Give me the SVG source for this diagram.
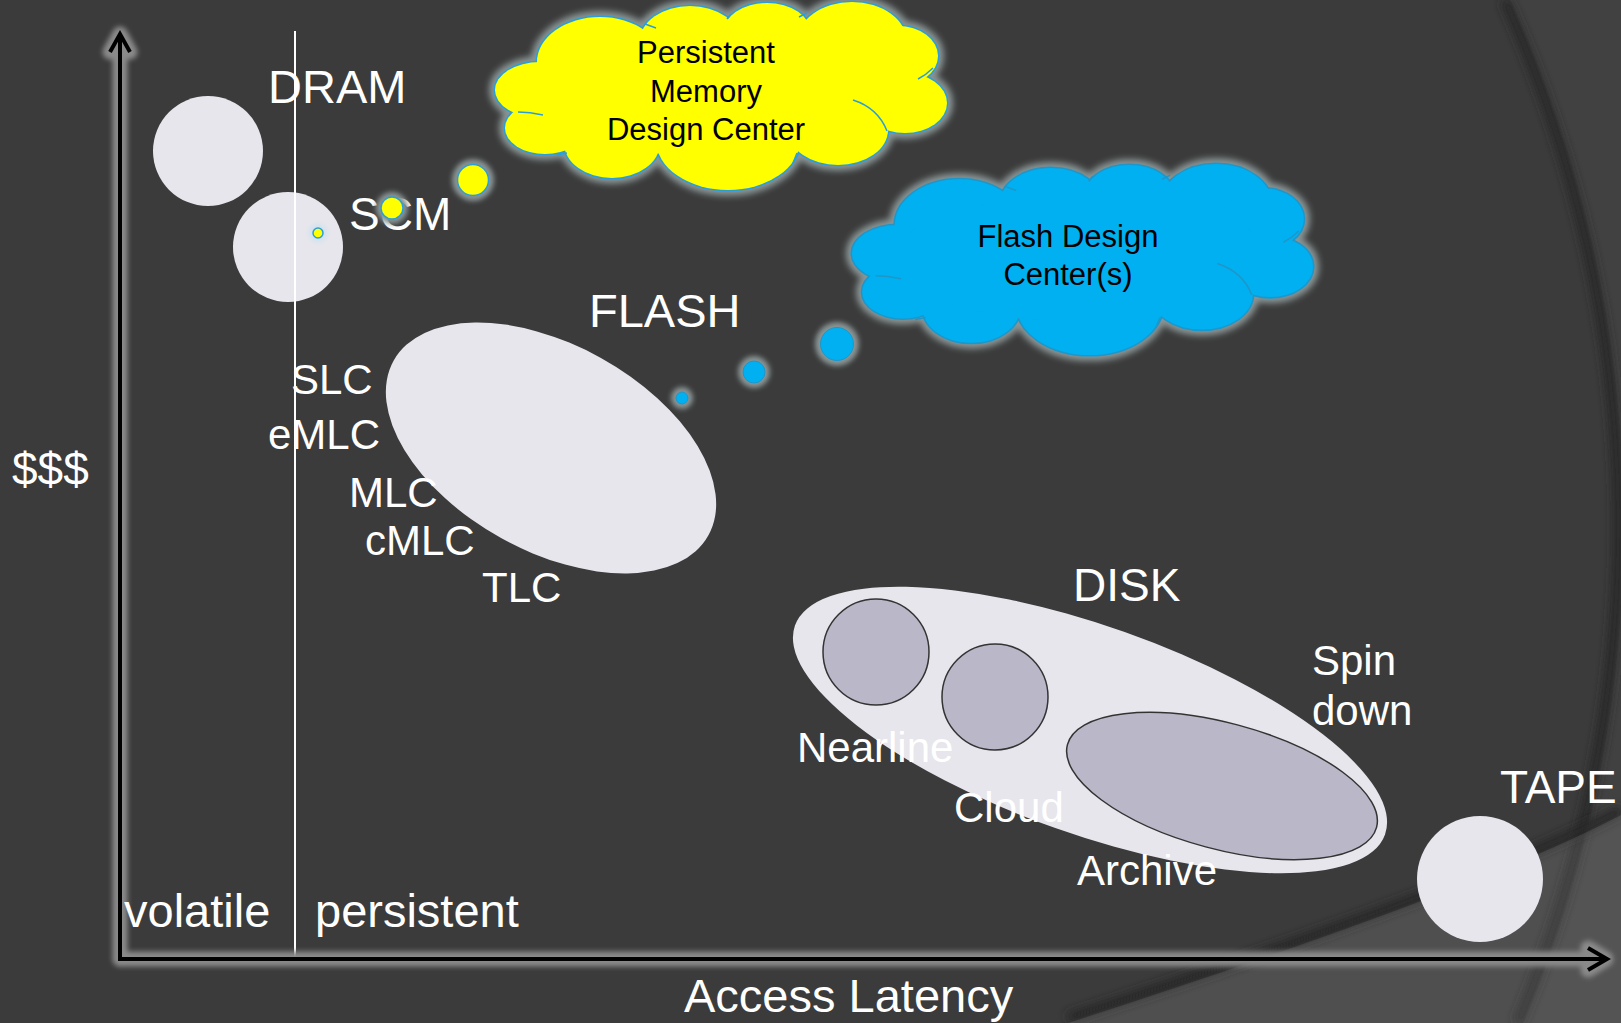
<svg xmlns="http://www.w3.org/2000/svg" xmlns:xlink="http://www.w3.org/1999/xlink" width="1621" height="1023" viewBox="0 0 1621 1023">
<defs>
<style>
.lbl{font-family:"Liberation Sans",Arial,sans-serif;fill:#ffffff}
.big{font-size:47px}
.b46{font-size:46px}
.mid{font-size:42px}
.cl{font-family:"Liberation Sans",Arial,sans-serif;fill:#000000;font-size:31px;text-anchor:middle}
.blob{fill:#e7e6ec}
.sub{fill:#bab8c8;stroke:#333333;stroke-width:1.5}
.glow{fill:#8a9494}
</style>
<filter id="soft" x="-20%" y="-30%" width="140%" height="160%"><feGaussianBlur stdDeviation="3"/></filter>
<filter id="soft2" x="-100%" y="-100%" width="300%" height="300%"><feGaussianBlur stdDeviation="2.5"/></filter>
<filter id="axglow" x="-5%" y="-5%" width="110%" height="110%" filterUnits="userSpaceOnUse"><feGaussianBlur stdDeviation="2.5"/></filter>
<filter id="shade" x="-20%" y="-20%" width="140%" height="140%"><feGaussianBlur stdDeviation="5"/></filter>
<g id="cloudE">
<ellipse cx="600" cy="62" rx="63" ry="45"/>
<ellipse cx="690" cy="41" rx="50" ry="35"/>
<ellipse cx="767" cy="33" rx="44" ry="30"/>
<ellipse cx="852" cy="42" rx="55" ry="40"/>
<ellipse cx="898" cy="56" rx="40" ry="30"/>
<ellipse cx="905" cy="103" rx="42" ry="30"/>
<ellipse cx="838" cy="130" rx="50" ry="35"/>
<ellipse cx="728" cy="140" rx="72" ry="50"/>
<ellipse cx="612" cy="143" rx="48" ry="35"/>
<ellipse cx="545" cy="128" rx="40" ry="26"/>
<ellipse cx="540" cy="90" rx="45" ry="28"/>
<ellipse cx="720" cy="95" rx="185" ry="62"/>
</g>
<path id="cloudIn" d="M645 24 L656 28 M727 19 L731 14 M799 17 L807 13 M918 79 Q926 75 933 68 M853 100 Q878 108 887 131 M797 153 L793 163 M567 153 L557 155 M518 112 Q530 112 543 115"/>
</defs>

<!-- background -->
<rect x="0" y="0" width="1621" height="1023" fill="#3b3b3b"/>
<path d="M1510 0 A1280 1280 0 0 1 1523 1023" fill="none" stroke="#262626" stroke-width="10" filter="url(#shade)" transform="translate(-5,0)"/>
<path d="M1510 0 A1280 1280 0 0 1 1523 1023 L1621 1023 L1621 0 Z" fill="#ffffff" fill-opacity="0.03"/>
<path d="M1068 1023 Q1480 890 1621 815" fill="none" stroke="#262626" stroke-width="10" filter="url(#shade)" transform="translate(0,-5)"/>
<path d="M1068 1023 Q1480 890 1621 815 L1621 1023 Z" fill="#ffffff" fill-opacity="0.1"/>

<!-- clouds -->
<g id="cloud-persistent-memory">
<use xlink:href="#cloudE" href="#cloudE" fill="#8a9494" stroke="#8a9494" stroke-width="12" filter="url(#soft)"/>
<use xlink:href="#cloudE" href="#cloudE" fill="none" stroke="#2b9ed8" stroke-width="3"/>
<use xlink:href="#cloudE" href="#cloudE" fill="#ffff00"/>
<use xlink:href="#cloudIn" href="#cloudIn" fill="none" stroke="#2b9ed8" stroke-width="1.5"/>
<text class="cl" x="706" y="63">Persistent</text>
<text class="cl" x="706" y="102">Memory</text>
<text class="cl" x="706" y="140">Design Center</text>
</g>

<g id="cloud-flash">
<g transform="translate(852,163) scale(1.02,1.016) translate(-495,-1)">
<use xlink:href="#cloudE" href="#cloudE" fill="#8a9494" stroke="#8a9494" stroke-width="12" filter="url(#soft)"/>
<use xlink:href="#cloudE" href="#cloudE" fill="none" stroke="#1f96c8" stroke-width="3"/>
<use xlink:href="#cloudE" href="#cloudE" fill="#00b0f0"/>
<use xlink:href="#cloudIn" href="#cloudIn" fill="none" stroke="#1f96c8" stroke-width="1.5"/>
</g>
<text class="cl" x="1068" y="247">Flash Design</text>
<text class="cl" x="1068" y="285">Center(s)</text>
</g>

<!-- DRAM -->
<g id="dram">
<circle class="blob" cx="208" cy="151" r="55"/>
<text class="lbl big" x="268" y="103">DRAM</text>
</g>

<!-- SCM -->
<g id="scm">
<circle class="blob" cx="288" cy="247" r="55"/>
<text class="lbl b46" x="349" y="230">SCM</text>
</g>

<!-- divider line -->
<g id="divider">
<line x1="295" y1="31" x2="295" y2="959" stroke="#ffffff" stroke-width="2"/>
</g>

<!-- thought bubbles -->
<g id="bubbles-persistent-memory">
<circle cx="318" cy="233" r="9" fill="#cfe2ee" filter="url(#soft2)"/>
<circle cx="392" cy="208" r="16" class="glow" filter="url(#soft2)"/>
<circle cx="473" cy="180" r="21" class="glow" filter="url(#soft2)"/>
<circle cx="318" cy="233" r="5" fill="#ffff00" stroke="#2b9ed8" stroke-width="1.5"/>
<circle cx="392" cy="208" r="11" fill="#ffff00" stroke="#2b9ed8" stroke-width="1.5"/>
<circle cx="473" cy="180" r="15.5" fill="#ffff00" stroke="#2b9ed8" stroke-width="1.5"/>
</g>

<g id="bubbles-flash">
<circle cx="682" cy="398" r="11" class="glow" filter="url(#soft2)"/>
<circle cx="754" cy="372" r="16" class="glow" filter="url(#soft2)"/>
<circle cx="837" cy="344" r="22" class="glow" filter="url(#soft2)"/>
<circle cx="682" cy="398" r="6" fill="#00b0f0" stroke="#1f96c8" stroke-width="1"/>
<circle cx="754" cy="372" r="11" fill="#00b0f0" stroke="#1f96c8" stroke-width="1"/>
<circle cx="837" cy="344" r="16.5" fill="#00b0f0" stroke="#1f96c8" stroke-width="1"/>
</g>

<!-- FLASH -->
<g id="flash">
<ellipse class="blob" cx="551" cy="448" rx="180" ry="103" transform="rotate(29 551 448)"/>
<text class="lbl big" x="589" y="327">FLASH</text>
<text class="lbl mid" x="291" y="394">SLC</text>
<text class="lbl mid" x="268" y="449">eMLC</text>
<text class="lbl mid" x="349" y="507">MLC</text>
<text class="lbl mid" x="365" y="555">cMLC</text>
<text class="lbl mid" x="482" y="602">TLC</text>
</g>

<!-- DISK -->
<g id="disk">
<ellipse class="blob" cx="1090" cy="730" rx="313" ry="104" transform="rotate(19.5 1090 730)"/>
<g id="disk-nearline">
<circle class="sub" cx="876" cy="652" r="53"/>
<text class="lbl mid" x="797" y="762">Nearline</text>
</g>
<g id="disk-cloud">
<circle class="sub" cx="995" cy="697" r="53"/>
<text class="lbl mid" x="954" y="822">Cloud</text>
</g>
<g id="disk-archive">
<ellipse class="sub" cx="1222" cy="786" rx="160" ry="63" transform="rotate(15 1222 786)"/>
<text class="lbl mid" x="1077" y="885">Archive</text>
</g>
<text class="lbl b46" x="1073" y="601">DISK</text>
<text class="lbl mid" x="1312" y="675">Spin</text>
<text class="lbl mid" x="1312" y="725">down</text>
</g>

<!-- TAPE -->
<g id="tape">
<circle class="blob" cx="1480" cy="879" r="63"/>
<text class="lbl b46" x="1500" y="803">TAPE</text>
</g>

<!-- axes -->
<g id="axes">
<g fill="none" stroke="#8a8a8a" stroke-width="15" stroke-linecap="round" stroke-linejoin="round" filter="url(#axglow)">
<path d="M120 959 L120 36 M110 52 L120 34 L130 52"/>
<path d="M120 959 L1604 959 M1588 948 L1606 959 L1588 970"/>
</g>
<g fill="none" stroke="#000000" stroke-width="4">
<path d="M120 961 L120 34"/>
<path d="M110 52 L120 34 L130 52" stroke-linejoin="miter"/>
<path d="M118 959 L1605 959"/>
<path d="M1588 948 L1607 959 L1588 970" stroke-linejoin="miter"/>
</g>
</g>

<!-- axis labels -->
<g id="axis-labels">
<text class="lbl b46" x="12" y="485">$$$</text>
<text class="lbl big" x="124" y="927">volatile</text>
<text class="lbl big" x="315" y="927">persistent</text>
<text class="lbl big" x="684" y="1012">Access Latency</text>
</g>
</svg>
